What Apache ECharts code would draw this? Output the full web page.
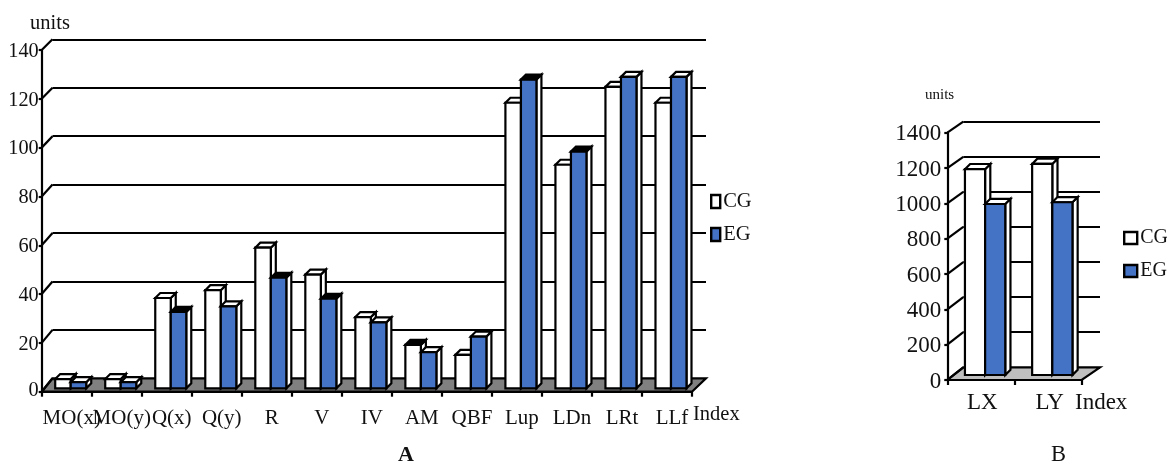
<!DOCTYPE html>
<html>
<head>
<meta charset="utf-8">
<style>html,body{margin:0;padding:0;background:#fff}#c{width:1167px;height:463px}</style>
<script src="https://cdn.jsdelivr.net/npm/echarts@6/dist/echarts.min.js"></script>
</head>
<body>
<div id="c"></div>
<script>
const categoriesA = ['MO(x)','MO(y)','Q(x)','Q(y)','R','V','IV','AM','QBF','Lup','LDn','LRt','LLf'];
const cgA = [3.8,3.8,37,40.2,57.6,46.6,29.2,17.8,13.7,117,91.6,123.5,117];
const egA = [2.5,2.5,31.3,33.6,45.3,36.7,27,14.8,21.2,126.5,97,127.6,127.6];
const categoriesB = ['LX','LY'];
const cgB = [1165,1195];
const egB = [968,978];
const ticksA = [0,20,40,60,80,100,120,140];
const ticksB = [0,200,400,600,800,1000,1200,1400];
// Bars whose narrow top face prints solid black in the reference
const darkTopsCgA = ['AM'];
const darkTopsEgA = ['Q(x)','R','V','Lup','LDn'];

const FONT = '"Liberation Serif","Times New Roman",serif';
const LW = 2.2, BLUE = '#4472C4';
const layA = {left:41.7,right:692,top:50,bottom:391.7,bl:52.5,br:706,bt:39.3,bb:378.3,floor:'#808080',
  shift:[4,-3.4],barFrac:0.31,depth:5,zeroPad:[0,0,6,0]};
const layB = {left:947.3,right:1081.7,top:132.7,bottom:380,bl:963.3,br:1100,bt:121.7,bb:367.3,floor:'#BFBFBF',
  shift:[4.2,-5],barFrac:0.3,depth:5.2,zeroPad:[0,0,0,0]};

function grids(l){
  return [
    {left:l.left,width:l.right-l.left,top:l.top,height:l.bottom-l.top,containLabel:false},
    {left:l.bl,width:l.br-l.bl,top:l.bt,height:l.bb-l.bt,containLabel:false}
  ];
}
function polygon(points,fill){
  return {type:'polygon',shape:{points},style:{fill,stroke:'#000',lineWidth:LW,lineJoin:'miter'}};
}
function barRender(l,side,color,darkTops,cats){
  return function(params,api){
    const idx = api.value(0);
    const c = api.coord([idx,api.value(1)]);
    const base = api.coord([idx,0]);
    const band = api.size([1,0])[0];
    const w = band*l.barFrac, d = l.depth;
    const x0 = c[0]+l.shift[0]+(side===0?-w:0), x1 = x0+w;
    const yt = c[1]+l.shift[1], yb = base[1]+l.shift[1];
    const topFill = darkTops.includes(cats[idx]) ? '#000' : '#fff';
    return {type:'group',children:[
      polygon([[x1,yt],[x1+d,yt-d],[x1+d,yb-d],[x1,yb]],'#fff'),
      polygon([[x0,yt],[x0+d,yt-d],[x1+d,yt-d],[x1,yt]],topFill),
      polygon([[x0,yt],[x1,yt],[x1,yb],[x0,yb]],color)
    ]};
  };
}
function frameRender(l){
  return function(params,api){
    const v = api.value(0), y = api.coord([0,v])[1], cs = params.coordSys;
    const backH = l.bb-l.bt, frontH = l.bottom-l.top;
    const yBack = l.bb-(l.bottom-y)/frontH*backH;
    const children = [];
    if(v===0){
      children.push(polygon([[cs.x,y],[cs.x+cs.width,y],[l.br,l.bb],[l.bl,l.bb]],l.floor));
    }
    children.push({type:'line',shape:{x1:cs.x,y1:y,x2:l.bl,y2:yBack},style:{stroke:'#000',lineWidth:LW}});
    return {type:'group',children};
  };
}
function xAxis(gi,cats,extra,fs){
  return [
    {gridIndex:gi,type:'category',data:cats,boundaryGap:true,z:5,
     axisLine:{lineStyle:{color:'#000',width:LW}},
     axisTick:{show:true,alignWithLabel:false,length:5,lineStyle:{color:'#000',width:LW}},
     axisLabel:Object.assign({interval:0,color:'#111',fontFamily:FONT,fontSize:fs,hideOverlap:false},extra)},
    {gridIndex:gi+1,type:'category',data:cats,show:false}
  ];
}
function yAxis(gi,max,step,fs,margin,l){
  return [
    {gridIndex:gi,type:'value',min:0,max,interval:step,z:5,
     axisLine:{show:true,lineStyle:{color:'#000',width:LW}},
     axisTick:{show:true,length:3,lineStyle:{color:'#000',width:LW}},
     splitLine:{show:false},
     axisLabel:{color:'#111',fontFamily:FONT,fontSize:fs,margin,padding:[3,0,0,0],
       formatter:v=>v===0?'{z|0}':String(v),
       rich:{z:{fontFamily:FONT,fontSize:fs,color:'#111',padding:l.zeroPad}}}},
    {gridIndex:gi+1,type:'value',min:0,max,interval:step,
     axisLine:{show:false},axisTick:{show:false},axisLabel:{show:false},
     splitLine:{show:true,lineStyle:{color:'#000',width:LW}}}
  ];
}
function seriesFor(gi,l,cats,cgv,egv,ticks,darkCg,darkEg){
  return [
    {type:'custom',name:'frame',xAxisIndex:gi,yAxisIndex:gi,silent:true,clip:false,z:1,
     data:ticks.map(t=>[t]),encode:{y:0},renderItem:frameRender(l)},
    {type:'custom',name:'CG',xAxisIndex:gi,yAxisIndex:gi,clip:false,z:2,
     itemStyle:{color:'#fff',borderColor:'#000',borderWidth:2},
     data:cgv.map((v,i)=>[i,v]),encode:{x:0,y:1},renderItem:barRender(l,0,'#fff',darkCg,cats)},
    {type:'custom',name:'EG',xAxisIndex:gi,yAxisIndex:gi,clip:false,z:3,
     itemStyle:{color:BLUE,borderColor:'#000',borderWidth:2},
     data:egv.map((v,i)=>[i,v]),encode:{x:0,y:1},renderItem:barRender(l,1,BLUE,darkEg,cats)}
  ];
}
function txt(x,y,text,size,align,weight){
  return {type:'text',x,y,silent:true,style:{text,fill:'#111',font:(weight||'normal')+' '+size+'px '+FONT,
    textAlign:align||'left',textVerticalAlign:'middle'}};
}
const chart = echarts.init(document.getElementById('c'),null,{renderer:'canvas'});
chart.setOption({
  animation:false,
  backgroundColor:'#fff',
  grid:[...grids(layA),...grids(layB)],
  xAxis:[...xAxis(0,categoriesA,{margin:16,padding:[0,0,0,10]},21),...xAxis(2,categoriesB,{margin:11,padding:[0,0,0,3]},23)],
  yAxis:[...yAxis(0,140,20,20.3,3,layA),...yAxis(2,1400,200,23,6,layB)],
  legend:[
    {data:['CG','EG'],orient:'vertical',left:710,top:191,icon:'rect',itemWidth:9,itemHeight:13,itemGap:12,padding:0,
     selectedMode:false,itemStyle:{borderColor:'#000',borderWidth:2.4},
     textStyle:{fontFamily:FONT,fontSize:20.5,color:'#111',padding:[0,0,0,-2]}},
    {data:['CG','EG'],orient:'vertical',left:1123,top:228,icon:'rect',itemWidth:13,itemHeight:12,itemGap:13,padding:0,
     selectedMode:false,itemStyle:{borderColor:'#000',borderWidth:2.4},
     textStyle:{fontFamily:FONT,fontSize:20,color:'#111',padding:[0,0,0,-2]}}
  ],
  series:[...seriesFor(0,layA,categoriesA,cgA,egA,ticksA,darkTopsCgA,darkTopsEgA),
          ...seriesFor(2,layB,categoriesB,cgB,egB,ticksB,[],[])],
  graphic:[
    txt(30,23.5,'units',20.5),
    txt(693,415,'Index',20.5),
    txt(925,95.5,'units',15),
    txt(1075,403,'Index',23),
    txt(406,455.5,'A',22,'center','bold'),
    txt(1058.5,455.5,'B',22.5,'center')
  ]
});
</script>
</body>
</html>
